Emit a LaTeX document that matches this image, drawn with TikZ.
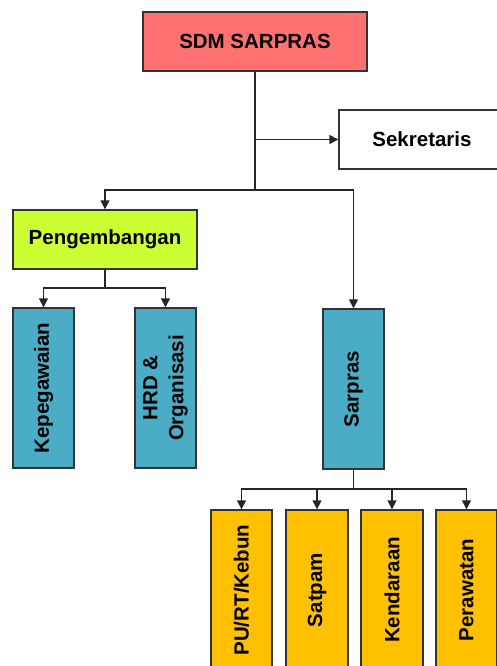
\documentclass[tikz,border=0pt]{standalone}
\usepackage{fontspec}
\setmainfont{Liberation Sans}
\usetikzlibrary{arrows.meta}
\definecolor{topred}{HTML}{FF7171}
\definecolor{lime}{HTML}{CCFF33}
\definecolor{teal}{HTML}{4BACC6}
\definecolor{amber}{HTML}{FFC000}
\definecolor{edge}{HTML}{333333}
\begin{document}
\begin{tikzpicture}[x=1pt,y=-1pt,
  box/.style={draw=edge, line width=1.4pt, inner sep=0pt, align=center,
    font=\fontsize{20.5}{26}\selectfont\bfseries},
  hbox/.style={box, minimum height=59pt},
  conn/.style={draw=black!85, line width=1.5pt},
  arr/.style={conn, -{Triangle[length=9pt,width=9pt]}}]
\useasboundingbox (0,0) rectangle (497,666);
\clip (0,0) rectangle (497,666);
\node[hbox, fill=topred, minimum width=224pt] (top) at (255,41.5) {SDM SARPRAS};
\node[hbox, fill=white, minimum width=166pt] (sek) at (422,139.5) {Sekretaris};
\node[hbox, fill=lime, minimum width=184pt] (peng) at (105,239.5) {Pengembangan};
\node[box, fill=teal, minimum width=160pt, minimum height=61pt, rotate=90] (kep) at (43.5,388) {Kepegawaian};
\node[box, fill=teal, minimum width=160pt, minimum height=61pt, rotate=90] (hrd) at (165.5,388) {HRD \&\\Organisasi};
\node[box, fill=teal, minimum width=160pt, minimum height=61pt, rotate=90] (sar) at (353.5,389) {Sarpras};
\node[box, fill=amber, minimum width=160pt, minimum height=61pt, rotate=90] (pu) at (241.5,590) {PU/RT/Kebun};
\node[box, fill=amber, minimum width=160pt, minimum height=62pt, rotate=90] (sat) at (317,590) {Satpam};
\node[box, fill=amber, minimum width=160pt, minimum height=62pt, rotate=90] (ken) at (392,590) {Kendaraan};
\node[box, fill=amber, minimum width=160pt, minimum height=61pt, rotate=90] (per) at (466.5,590) {Perawatan};
\coordinate (j1) at (255,190);
\coordinate (js) at (255,139.5);
\coordinate (j2) at (105,288);
\coordinate (j3) at (353.5,489);
\draw[conn] (top.south) -- (j1);
\draw[arr] (js) -- (sek.west);
\draw[arr] (j1) -| (peng.north);
\draw[arr] (j1) -| (sar.east);
\draw[conn] (peng.south) -- (j2);
\draw[arr] (j2) -| (kep.east);
\draw[arr] (j2) -| (hrd.east);
\draw[conn] (sar.west) -- (j3);
\draw[arr] (j3) -| (pu.east);
\draw[arr] (j3) -| (sat.east);
\draw[arr] (j3) -| (ken.east);
\draw[arr] (j3) -| (per.east);
\end{tikzpicture}
\end{document}
